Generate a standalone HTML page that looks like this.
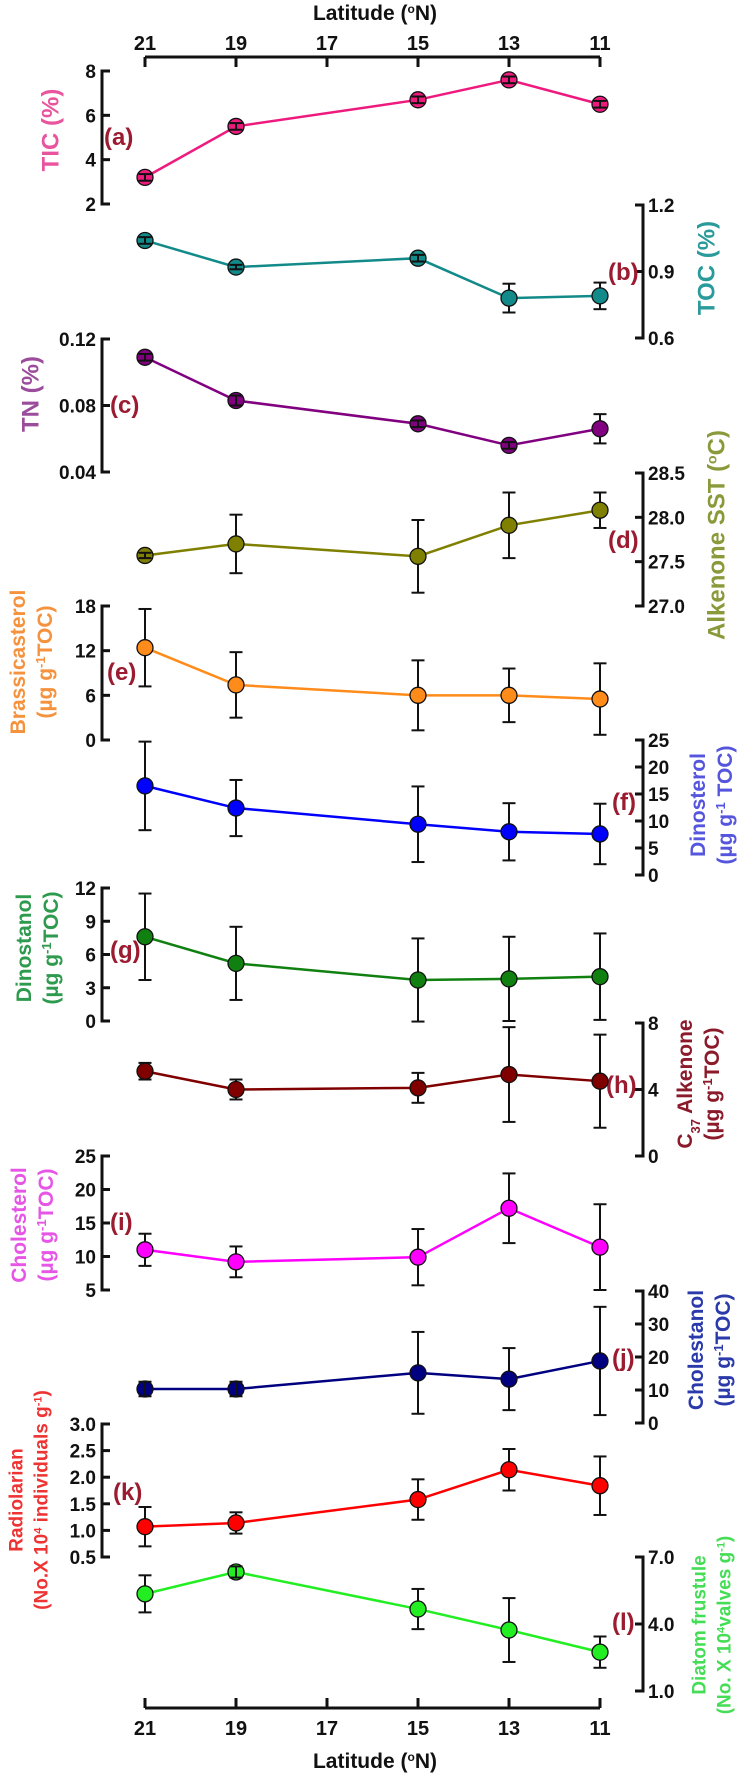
<!DOCTYPE html>
<html><head><meta charset="utf-8"><style>
html,body{margin:0;padding:0;background:#fff}
svg{display:block;font-family:"Liberation Sans",Arial,sans-serif}
</style></head><body>
<svg id="chart" width="752" height="1776" viewBox="0 0 752 1776" xmlns="http://www.w3.org/2000/svg"></svg>
<script>
const latitudes=[21,19,15,13,11];
const latTicks=[21,19,17,15,13,11];
const ticValues=[3.2,5.5,6.7,7.6,6.5];
const ticErrors=[0.15,0.15,0.15,0.15,0.15];
const tocValues=[1.04,0.92,0.96,0.78,0.79];
const tocErrors=[0.015,0.01,0.015,0.065,0.06];
const tnValues=[0.109,0.083,0.069,0.056,0.066];
const tnErrors=[0.002,0.003,0.002,0.002,0.0088];
const sstValues=[27.57,27.7,27.56,27.91,28.08];
const sstErrors=[0.03,0.33,0.41,0.37,0.2];
const brassValues=[12.4,7.4,6.0,6.0,5.5];
const brassErrors=[5.2,4.4,4.7,3.6,4.8];
const dinosterolValues=[16.5,12.4,9.4,8.0,7.6];
const dinosterolErrors=[8.2,5.2,7.0,5.3,5.6];
const dinostanolValues=[7.6,5.2,3.7,3.8,4.0];
const dinostanolErrors=[3.9,3.3,3.75,3.8,3.9];
const c37Values=[5.1,4.0,4.1,4.9,4.5];
const c37Errors=[0.5,0.6,0.9,2.85,2.8];
const cholesterolValues=[11.0,9.2,9.9,17.2,11.4];
const cholesterolErrors=[2.4,2.3,4.2,5.2,6.4];
const cholestanolValues=[10.3,10.3,15.2,13.3,18.8];
const cholestanolErrors=[2.2,2.2,12.4,9.4,16.4];
const radioValues=[1.07,1.14,1.58,2.14,1.84];
const radioErrors=[0.37,0.2,0.38,0.39,0.55];
const diatomValues=[5.35,6.33,4.67,3.73,2.74];
const diatomErrors=[0.83,0.25,0.9,1.43,0.7];

const ticTicks=[2,4,6,8], ticLabels=["2","4","6","8"];
const tocTicks=[0.6,0.9,1.2], tocLabels=["0.6","0.9","1.2"];
const tnTicks=[0.04,0.08,0.12], tnLabels=["0.04","0.08","0.12"];
const sstTicks=[27,27.5,28,28.5], sstLabels=["27.0","27.5","28.0","28.5"];
const brassTicks=[0,6,12,18], brassLabels=["0","6","12","18"];
const dinosterolTicks=[0,5,10,15,20,25], dinosterolLabels=["0","5","10","15","20","25"];
const dinostanolTicks=[0,3,6,9,12], dinostanolLabels=["0","3","6","9","12"];
const c37Ticks=[0,4,8], c37Labels=["0","4","8"];
const cholesterolTicks=[5,10,15,20,25], cholesterolLabels=["5","10","15","20","25"];
const cholestanolTicks=[0,10,20,30,40], cholestanolLabels=["0","10","20","30","40"];
const radioTicks=[0.5,1,1.5,2,2.5,3], radioLabels=["0.5","1.0","1.5","2.0","2.5","3.0"];
const diatomTicks=[1,4,7], diatomLabels=["1.0","4.0","7.0"];

const NS="http://www.w3.org/2000/svg";
const svg=document.getElementById('chart');
function mk(tag,attrs,parent){const e=document.createElementNS(NS,tag);for(const k in attrs)e.setAttribute(k,attrs[k]);(parent||svg).appendChild(e);return e;}
function xScale(lat){return 145+(21-lat)*45.5;}
const LETTER="#9b1b30";

const panels=[
 {id:'tic',letter:'(a)',side:'left',vals:ticValues,errs:ticErrors,ticks:ticTicks,labels:ticLabels,v0:2,y0:204,v1:8,y1:71,color:'#ee1a7e',tcolor:'#e8559e',lx:104,ly:137,title:[['TIC (%)']],tx:50,ty:130,fs:24},
 {id:'toc',letter:'(b)',side:'right',vals:tocValues,errs:tocErrors,ticks:tocTicks,labels:tocLabels,v0:0.6,y0:338,v1:1.2,y1:205,color:'#138a8a',tcolor:'#2a9a9a',lx:608,ly:272,title:[['TOC (%)']],tx:706,ty:268,fs:24},
 {id:'tn',letter:'(c)',side:'left',vals:tnValues,errs:tnErrors,ticks:tnTicks,labels:tnLabels,v0:0.04,y0:472,v1:0.12,y1:339,color:'#800080',tcolor:'#9b4d9b',lx:110,ly:405,title:[['TN (%)']],tx:30,ty:394,fs:24},
 {id:'sst',letter:'(d)',side:'right',vals:sstValues,errs:sstErrors,ticks:sstTicks,labels:sstLabels,v0:27,y0:606,v1:28.5,y1:473,color:'#808000',tcolor:'#8a9a3a',lx:608,ly:540,title:[['Alkenone SST (',['o','sup'],'C)']],tx:716,ty:535,fs:24},
 {id:'brass',letter:'(e)',side:'left',vals:brassValues,errs:brassErrors,ticks:brassTicks,labels:brassLabels,v0:0,y0:740,v1:18,y1:606,color:'#ff8c1a',tcolor:'#f5923e',lx:107,ly:672,title:[['Brassicasterol'],['(µg g',['-1','sup'],'TOC)']],tx:31,ty:662,fs:21},
 {id:'dinosterol',letter:'(f)',side:'right',vals:dinosterolValues,errs:dinosterolErrors,ticks:dinosterolTicks,labels:dinosterolLabels,v0:0,y0:875,v1:25,y1:740,color:'#0000ff',tcolor:'#5555dd',lx:612,ly:802,title:[['Dinosterol'],['(µg g',['-1','sup'],' TOC)']],tx:711,ty:805,fs:21},
 {id:'dinostanol',letter:'(g)',side:'left',vals:dinostanolValues,errs:dinostanolErrors,ticks:dinostanolTicks,labels:dinostanolLabels,v0:0,y0:1021,v1:12,y1:888,color:'#108010',tcolor:'#2e9a4e',lx:110,ly:950,title:[['Dinostanol'],['(µg g',['-1','sup'],'TOC)']],tx:37,ty:948,fs:21},
 {id:'c37',letter:'(h)',side:'right',vals:c37Values,errs:c37Errors,ticks:c37Ticks,labels:c37Labels,v0:0,y0:1156,v1:8,y1:1023,color:'#800000',tcolor:'#8b1a2a',lx:606,ly:1085,title:[['C',['37','sub'],' Alkenone'],['(µg g',['-1','sup'],'TOC)']],tx:698,ty:1084,fs:21},
 {id:'cholesterol',letter:'(i)',side:'left',vals:cholesterolValues,errs:cholesterolErrors,ticks:cholesterolTicks,labels:cholesterolLabels,v0:5,y0:1290,v1:25,y1:1156,color:'#ff00ff',tcolor:'#e655e6',lx:110,ly:1222,title:[['Cholesterol'],['(µg g',['-1','sup'],'TOC)']],tx:32,ty:1225,fs:21},
 {id:'cholestanol',letter:'(j)',side:'right',vals:cholestanolValues,errs:cholestanolErrors,ticks:cholestanolTicks,labels:cholestanolLabels,v0:0,y0:1423,v1:40,y1:1291,color:'#000080',tcolor:'#2a3aaa',lx:612,ly:1358,title:[['Cholestanol'],['(µg g',['-1','sup'],'TOC)']],tx:709,ty:1350,fs:21},
 {id:'radiolarian',letter:'(k)',side:'left',vals:radioValues,errs:radioErrors,ticks:radioTicks,labels:radioLabels,v0:0.5,y0:1557,v1:3,y1:1424,color:'#ff0000',tcolor:'#ee3333',lx:113,ly:1492,title:[['Radiolarian'],['(No.X 10',['4','sup'],' individuals g',['-1','sup'],')']],tx:28,ty:1500,fs:19},
 {id:'diatom',letter:'(l)',side:'right',vals:diatomValues,errs:diatomErrors,ticks:diatomTicks,labels:diatomLabels,v0:1,y0:1691,v1:7,y1:1557,color:'#22ee22',tcolor:'#44dd55',lx:612,ly:1622,title:[['Diatom frustule'],['(No. X 10',['4','sup'],'valves g',['-1','sup'],')']],tx:711,ty:1625,fs:19}
];

function latAxis(y,dir,labelY,titleY,name){
  const g=mk('g',{});
  
  
  mk('line',{x1:xScale(21),x2:xScale(11),y1:y,y2:y,stroke:'#111','stroke-width':3},g);
  latTicks.forEach(t=>{
    const x=xScale(t);
    mk('line',{x1:x,x2:x,y1:y,y2:y+dir*10,stroke:'#111','stroke-width':3},g);
    const tx=mk('text',{x:x,y:labelY,'text-anchor':'middle','font-size':20,'font-weight':'bold',fill:'#111'},g);
    tx.textContent=t;
  });
  const tt=mk('text',{x:375,y:titleY,'text-anchor':'middle','font-size':21,'font-weight':'bold',fill:'#111'},g);
  tt.appendChild(document.createTextNode('Latitude ('));
  const s=mk('tspan',{'baseline-shift':'super','font-size':12},tt);s.textContent='o';
  tt.appendChild(document.createTextNode('N)'));
}
latAxis(57,1,50,20,'top-latitude-axis');
latAxis(1708,-1,1735,1768,'bottom-latitude-axis');

panels.forEach(p=>{
  const g=mk('g',{});
  
  
  const ys=v=>p.y0+(v-p.v0)*(p.y1-p.y0)/(p.v1-p.v0);
  const ax=p.side==='left'?102:643;
  const dir=p.side==='left'?1:-1;
  const axis=mk('g',{},g);
  
  
  mk('line',{x1:ax,x2:ax,y1:ys(p.ticks[0])+1.5,y2:ys(p.ticks[p.ticks.length-1])-1.5,stroke:'#111','stroke-width':3},axis);
  p.ticks.forEach((t,i)=>{
    const y=ys(t);
    mk('line',{x1:ax,x2:ax+dir*8,y1:y,y2:y,stroke:'#111','stroke-width':3},axis);
    const lab=mk('text',{x:p.side==='left'?ax-6:ax+5,y:y+7,'text-anchor':p.side==='left'?'end':'start','font-size':19,'font-weight':'bold',fill:'#111'},axis);
    lab.textContent=p.labels[i];
  });
  const tg=mk('text',{transform:`translate(${p.tx},${p.ty}) rotate(-90)`,'text-anchor':'middle','font-size':p.fs,'font-weight':'bold',fill:p.tcolor},g);
  
  
  const n=p.title.length;
  p.title.forEach((line,li)=>{
    const ts=mk('tspan',{x:0,y:(li-(n-1)/2)*(p.fs+6)+p.fs*0.36},tg);
    line.forEach(part=>{
      if(typeof part==='string'){ts.appendChild(document.createTextNode(part));}
      else{const s=mk('tspan',{'baseline-shift':part[1]==='sup'?'super':'sub','font-size':Math.round(p.fs*0.6)},ts);s.textContent=part[0];}
    });
  });
  const lt=mk('text',{x:p.lx,y:p.ly+8,'font-size':24,'font-weight':'bold',fill:LETTER},g);
  
  
  lt.textContent=p.letter;
  const pts=latitudes.map((l,i)=>xScale(l)+','+ys(p.vals[i])).join(' ');
  const pl=mk('polyline',{points:pts,fill:'none',stroke:p.color,'stroke-width':2.5},g);
  
  
  latitudes.forEach((l,i)=>{
    const x=xScale(l),y=ys(p.vals[i]);
    const yt=ys(p.vals[i]+p.errs[i]),yb=ys(p.vals[i]-p.errs[i]);
    const eb=mk('g',{stroke:'#111','stroke-width':2},null);
    
    
    mk('line',{x1:x,x2:x,y1:yt,y2:yb},eb);
    mk('line',{x1:x-6.5,x2:x+6.5,y1:yt,y2:yt},eb);
    mk('line',{x1:x-6.5,x2:x+6.5,y1:yb,y2:yb},eb);
    const c=mk('circle',{cx:x,cy:y,r:8,fill:p.color,stroke:'#111','stroke-width':1.3},g);
    
    
    if(Math.abs(yb-yt)<16){g.appendChild(eb);} else {g.insertBefore(eb,c);}
  });
});
</script>
</body></html>
